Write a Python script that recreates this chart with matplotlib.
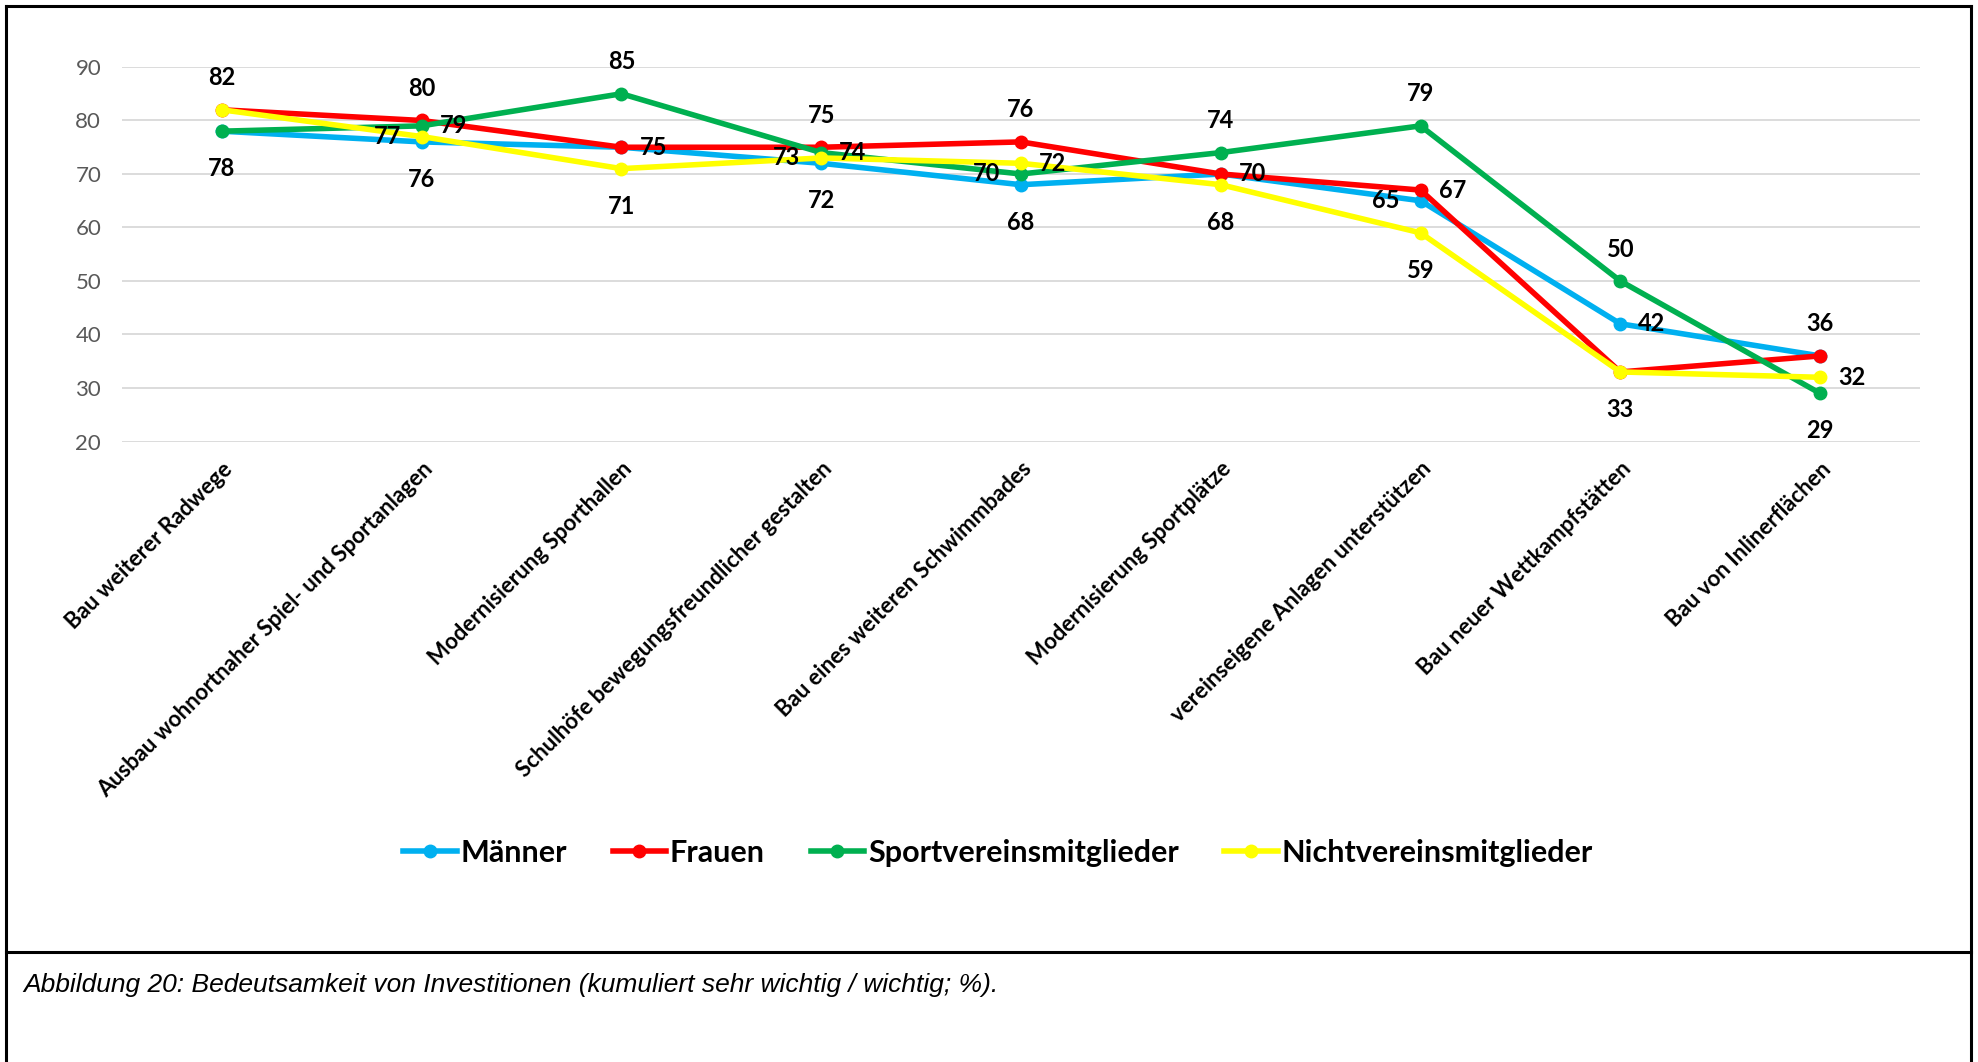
import matplotlib
matplotlib.use("Agg")
import matplotlib.pyplot as plt
from matplotlib.lines import Line2D

categories = [
    "Bau weiterer Radwege",
    "Ausbau wohnortnaher Spiel- und Sportanlagen",
    "Modernisierung Sporthallen",
    "Schulhöfe bewegungsfreundlicher gestalten",
    "Bau eines weiteren Schwimmbades",
    "Modernisierung Sportplätze",
    "vereinseigene Anlagen unterstützen",
    "Bau neuer Wettkampfstätten",
    "Bau von Inlinerflächen",
]
maenner = [78, 76, 75, 72, 68, 70, 65, 42, 36]
frauen = [82, 80, 75, 75, 76, 70, 67, 33, 36]
sport = [78, 79, 85, 74, 70, 74, 79, 50, 29]
nicht = [82, 77, 71, 73, 72, 68, 59, 33, 32]
series_names = ["Männer", "Frauen", "Sportvereinsmitglieder", "Nichtvereinsmitglieder"]
series_values = [maenner, frauen, sport, nicht]
series_colors = ["#00B0F0", "#FF0000", "#00B050", "#FFFF00"]
yticks = [20, 30, 40, 50, 60, 70, 80, 90]
caption = "Abbildung 20: Bedeutsamkeit von Investitionen (kumuliert sehr wichtig / wichtig; %)."

# which data labels are shown and where (series index, category index, position)
label_spec = [
    (1, 0, "above"), (0, 0, "below"),
    (1, 1, "above"), (2, 1, "right"), (3, 1, "left"), (0, 1, "below"),
    (2, 2, "above"), (1, 2, "right"), (3, 2, "below"),
    (1, 3, "above"), (2, 3, "right"), (3, 3, "left"), (0, 3, "below"),
    (1, 4, "above"), (2, 4, "left"), (3, 4, "right"), (0, 4, "below"),
    (2, 5, "above"), (1, 5, "right"), (3, 5, "below"),
    (2, 6, "above"), (1, 6, "right"), (0, 6, "left"), (3, 6, "below"),
    (2, 7, "above"), (0, 7, "right"), (3, 7, "below"),
    (1, 8, "above"), (3, 8, "right"), (2, 8, "below"),
]

W, H = 1978, 1062
fig = plt.figure(figsize=(W / 100, H / 100), dpi=100)
fig.patch.set_facecolor("white")

FONT = "Lato"

left_px, right_px, top_px, bot_px = 122, 1920, 67, 441.5
ax = fig.add_axes([left_px / W, 1 - bot_px / H, (right_px - left_px) / W, (bot_px - top_px) / H])
x = list(range(len(categories)))
for name, vals, col in zip(series_names, series_values, series_colors):
    ax.plot(x, vals, color=col, lw=4.0, marker="o", markersize=9,
            solid_joinstyle="round", label=name, zorder=3, clip_on=False)

ax.set_xlim(-0.5, len(categories) - 0.5)
ax.set_ylim(20, 90)
ax.set_yticks(yticks)
ax.yaxis.grid(True, color="#D9D9D9", lw=1.3)
ax.set_axisbelow(True)
for s in ax.spines.values():
    s.set_visible(False)
ax.tick_params(axis="both", length=0)
ax.tick_params(axis="y", labelcolor="#595959", labelsize=16, pad=15)
for t in ax.get_yticklabels():
    t.set_fontfamily(FONT)
ax.set_xticks(x)
ax.set_xticklabels(categories, rotation=45, ha="right", rotation_mode="anchor",
                   fontsize=16, fontweight="bold", fontfamily=FONT)
ax.tick_params(axis="x", pad=12)

offsets = {"above": ((0, 23), "center", "center"),
           "below": ((0, -27), "center", "center"),
           "right": ((13, 0), "left", "center"),
           "left": ((-15, 0), "right", "center")}
for si, ci, pos in label_spec:
    v = series_values[si][ci]
    (dx, dy), ha, va = offsets[pos]
    ax.annotate(str(v), (ci, v), xytext=(dx, dy), textcoords="offset points",
                ha=ha, va=va, fontsize=17, fontweight="bold", fontfamily=FONT,
                color="black", zorder=5, annotation_clip=False)

handles = [Line2D([], [], color=c, lw=4.0, marker="o", markersize=9) for c in series_colors]
fig.legend(handles, series_names, loc="center", bbox_to_anchor=(998 / W, 1 - 853 / H),
           ncol=4, frameon=False, handlelength=1.75, handletextpad=0.12, columnspacing=1.5,
           prop={"family": FONT, "weight": "bold", "size": 22})

# border lines
def fline(x0, y0, x1, y1):
    fig.add_artist(Line2D([x0 / W, x1 / W], [1 - y0 / H, 1 - y1 / H], color="black", lw=2.2,
                          transform=fig.transFigure, solid_capstyle="projecting"))

fline(6, 6, 1971, 6)
fline(6, 6, 6, H)
fline(1971, 6, 1971, H)
fline(6, 952, 1971, 952)

fig.text(23 / W, 1 - 985 / H, caption, ha="left", va="center", fontsize=19,
         style="italic", fontfamily="Liberation Sans", color="black")

fig.savefig("out.png", dpi=100, facecolor="white")
